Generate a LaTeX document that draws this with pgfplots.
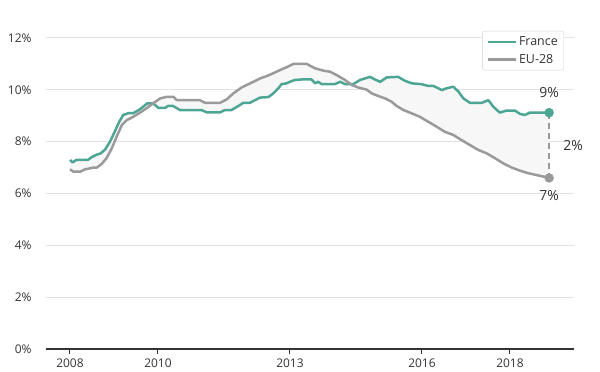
\documentclass[border=0pt]{standalone}
\usepackage{pgfplots}
\pgfplotsset{compat=1.18}
\usepackage{pgfplotstable}
\usepgfplotslibrary{fillbetween}
\usepackage{fontspec}
\setmainfont{Open Sans}
\definecolor{frc}{HTML}{4DA694}
\definecolor{euc}{HTML}{9A9A9A}
\definecolor{txt}{HTML}{333333}
\definecolor{gridc}{HTML}{E2E2E2}
\definecolor{fillc}{HTML}{F7F7F7}

\pgfplotstableread{
x v
2008.00 7.3
2008.06 7.2
2008.15 7.3
2008.41 7.3
2008.49 7.4
2008.61 7.5
2008.70 7.55
2008.80 7.7
2008.91 8.0
2009.02 8.4
2009.12 8.77
2009.21 9.03
2009.33 9.1
2009.44 9.1
2009.59 9.25
2009.76 9.48
2009.89 9.48
2010.01 9.3
2010.16 9.3
2010.23 9.38
2010.34 9.38
2010.50 9.22
2010.99 9.22
2011.11 9.13
2011.41 9.13
2011.52 9.22
2011.67 9.22
2011.83 9.38
2011.94 9.5
2012.09 9.5
2012.17 9.57
2012.32 9.7
2012.51 9.72
2012.62 9.86
2012.73 10.05
2012.81 10.22
2012.92 10.25
2013.00 10.31
2013.11 10.38
2013.27 10.4
2013.49 10.4
2013.57 10.25
2013.64 10.31
2013.72 10.22
2014.02 10.22
2014.14 10.31
2014.25 10.22
2014.44 10.22
2014.59 10.38
2014.82 10.5
2014.93 10.4
2015.05 10.31
2015.20 10.48
2015.46 10.5
2015.61 10.35
2015.77 10.25
2015.99 10.22
2016.14 10.15
2016.26 10.15
2016.45 9.99
2016.56 10.06
2016.71 10.12
2016.83 9.93
2016.94 9.67
2017.09 9.5
2017.36 9.5
2017.51 9.6
2017.62 9.35
2017.77 9.12
2017.92 9.2
2018.11 9.2
2018.23 9.07
2018.34 9.03
2018.45 9.12
2018.89 9.12
}\france

\pgfplotstableread{
x v
2008.00 6.93
2008.08 6.84
2008.23 6.84
2008.34 6.93
2008.53 7.0
2008.61 7.0
2008.72 7.14
2008.83 7.36
2008.95 7.74
2009.06 8.19
2009.18 8.64
2009.29 8.83
2009.44 8.96
2009.59 9.12
2009.74 9.29
2009.89 9.48
2010.05 9.67
2010.20 9.73
2010.35 9.73
2010.43 9.6
2010.95 9.6
2011.07 9.5
2011.41 9.5
2011.56 9.63
2011.71 9.86
2011.90 10.09
2012.02 10.19
2012.17 10.31
2012.32 10.44
2012.47 10.53
2012.62 10.64
2012.77 10.76
2012.92 10.87
2013.08 11.0
2013.38 11.0
2013.57 10.83
2013.76 10.74
2013.91 10.7
2014.06 10.57
2014.25 10.38
2014.40 10.19
2014.55 10.09
2014.74 10.01
2014.86 9.86
2015.01 9.76
2015.16 9.67
2015.31 9.54
2015.42 9.38
2015.58 9.22
2015.77 9.09
2015.95 8.96
2016.14 8.77
2016.33 8.58
2016.52 8.38
2016.71 8.26
2016.90 8.06
2017.09 7.87
2017.28 7.68
2017.47 7.55
2017.66 7.36
2017.85 7.16
2018.04 7.0
2018.23 6.88
2018.42 6.78
2018.61 6.71
2018.89 6.6
}\eu

\begin{document}
\begin{tikzpicture}
\path (-46bp,-23bp) rectangle (554bp,349bp);
\begin{axis}[
  at={(0,0)}, anchor=south west,
  width=528bp, height=311bp, scale only axis,
  xmin=2007.455, xmax=2019.455,
  ymin=0, ymax=12,
  clip=false,
  axis lines*=left,
  y axis line style={draw=none},
  x axis line style={draw=txt, line width=1.1bp},
  ytick={0,2,4,6,8,10,12},
  xtick={2008,2010,2013,2016,2018},
  ytick style={draw=none},
  xtick style={draw=txt, line width=1bp},
  tick align=outside,
  major tick length=5bp,
  ymajorgrids,
  grid style={gridc, line width=1bp},
  /pgf/number format/assume math mode=true,
  /pgf/number format/1000 sep={},
  yticklabel={\pgfmathprintnumber{\tick}\%},
  ticklabel style={font=\fontsize{12}{14}\selectfont, text=txt},
  yticklabel style={xshift=-6bp},
  xticklabel style={yshift=-1bp},
  legend style={at={(0.981,1.0225)}, anchor=north east, draw=gray!35,
    rounded corners=2bp, font=\fontsize{12.5}{14}\selectfont, text=txt,
    inner xsep=4bp, inner ysep=3.5bp, row sep=3bp},
  legend cell align=left,
  legend image code/.code={\draw[#1, line width=2.6bp] (0bp,0bp) -- (28bp,0bp);},
]
\addplot[draw=none, name path=fr, forget plot] table[x=x,y=v] {\france};
\addplot[draw=none, name path=eu, forget plot] table[x=x,y=v] {\eu};
\addplot[fillc, forget plot] fill between[of=fr and eu];
\addplot[frc, line width=2.5bp, line join=round] table[x=x,y=v] {\france};
\addlegendentry{France}
\addplot[euc, line width=2.5bp, line join=round] table[x=x,y=v] {\eu};
\addlegendentry{EU-28}
\addplot[euc, line width=2.2bp, dash pattern=on 6bp off 4bp, forget plot] coordinates {(2018.89,9.12) (2018.89,6.6)};
\addplot[only marks, mark=*, mark size=4.5bp, frc, forget plot] coordinates {(2018.89,9.12)};
\addplot[only marks, mark=*, mark size=4.5bp, euc, forget plot] coordinates {(2018.89,6.6)};
\node[font=\fontsize{14}{16}\selectfont, text=txt] at ([yshift=20bp]axis cs:2018.89,9.12) {9\%};
\node[font=\fontsize{14}{16}\selectfont, text=txt] at ([yshift=-18bp]axis cs:2018.89,6.6) {7\%};
\node[font=\fontsize{14}{16}\selectfont, text=txt] at ([xshift=24bp]axis cs:2018.89,7.86) {2\%};
\end{axis}
\end{tikzpicture}
\end{document}
